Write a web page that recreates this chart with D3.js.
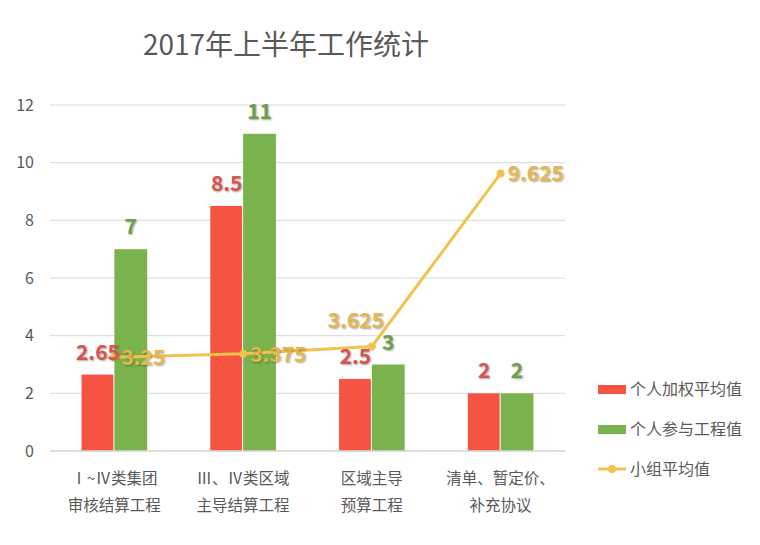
<!DOCTYPE html>
<html>
<head>
<meta charset="utf-8">
<script src="https://cdn.jsdelivr.net/npm/d3@7"></script>
<style>
body { margin:0; background:#fff; }
svg text { font-family: "Noto Sans CJK SC", "Noto Sans", sans-serif; }
.val { font-weight:bold; font-size:21px; text-shadow: 1px 1px 2px rgba(0,0,0,0.35); }
</style>
</head>
<body>
<svg width="760" height="545"></svg>
<script>
var categories = [["Ⅰ~Ⅳ类集团","审核结算工程"],["Ⅲ、Ⅳ类区域","主导结算工程"],["区域主导","预算工程"],["清单、暂定价、","补充协议"]];
var weighted = [2.65, 8.5, 2.5, 2];
var projects = [7, 11, 3, 2];
var groupAvg = [3.25, 3.375, 3.625, 9.625];
var yTicks = [0, 2, 4, 6, 8, 10, 12];
var seriesNames = ["个人加权平均值", "个人参与工程值", "小组平均值"];

var svg = d3.select("svg");
var plotLeft = 50, plotRight = 565, plotTop = 105, plotBottom = 451;

var x = d3.scaleBand()
    .domain(d3.range(categories.length))
    .range([plotLeft, plotRight])
    .paddingInner(0.49)
    .paddingOuter(0.245);

var y = d3.scaleLinear().domain([0, 12]).range([plotBottom, plotTop]);

svg.append("text")
    .attr("x", 286).attr("y", 55)
    .attr("text-anchor", "middle")
    .attr("font-size", 28)
    .attr("fill", "#595959")
    .text("2017年上半年工作统计");

// gridlines
svg.selectAll(".grid").data(yTicks).enter().append("line")
    .attr("x1", plotLeft).attr("x2", plotRight)
    .attr("y1", function(d){ return y(d); })
    .attr("y2", function(d){ return y(d); })
    .attr("stroke", "#d9d9d9").attr("stroke-width", 1);

var yAxis = svg.append("g")
    .attr("transform", "translate(" + plotLeft + ",0)")
    .call(d3.axisLeft(y).tickValues(yTicks).tickSize(0).tickPadding(16));
yAxis.select(".domain").remove();
yAxis.selectAll("text").attr("font-size", 16).attr("fill", "#595959")
    .style("font-family", "'Noto Sans CJK SC', sans-serif");

var bw = x.bandwidth() / 2;
var band = function(i){ return x(i) + x.bandwidth() / 2; };

svg.selectAll(".red").data(weighted).enter().append("rect")
    .attr("x", function(d, i){ return x(i); })
    .attr("y", function(d){ return y(d); })
    .attr("width", bw - 1)
    .attr("height", function(d){ return plotBottom - y(d); })
    .attr("fill", "#f55442");

svg.selectAll(".green").data(projects).enter().append("rect")
    .attr("x", function(d, i){ return x(i) + bw; })
    .attr("y", function(d){ return y(d); })
    .attr("width", bw)
    .attr("height", function(d){ return plotBottom - y(d); })
    .attr("fill", "#7ab34e");

// bottom axis line
svg.append("line")
    .attr("x1", plotLeft).attr("x2", plotRight)
    .attr("y1", plotBottom).attr("y2", plotBottom)
    .attr("stroke", "#d9d9d9").attr("stroke-width", 1.5);

// line series
var line = d3.line()
    .x(function(d, i){ return band(i); })
    .y(function(d){ return y(d); });
svg.append("path").datum(groupAvg)
    .attr("d", line)
    .attr("fill", "none")
    .attr("stroke", "#f2c24f")
    .attr("stroke-width", 3);
svg.selectAll(".dot").data(groupAvg).enter().append("circle")
    .attr("cx", function(d, i){ return band(i); })
    .attr("cy", function(d){ return y(d); })
    .attr("r", 4)
    .attr("fill", "#f2c24f");

// value labels
svg.selectAll(".rl").data(weighted).enter().append("text")
    .attr("class", "val")
    .attr("x", function(d, i){ return x(i) + bw / 2; })
    .attr("y", function(d){ return y(d) - 15; })
    .attr("text-anchor", "middle")
    .attr("fill", "#d9534f")
    .text(function(d){ return d; });

svg.selectAll(".gl").data(projects).enter().append("text")
    .attr("class", "val")
    .attr("x", function(d, i){ return x(i) + bw * 1.5; })
    .attr("y", function(d){ return y(d) - 15; })
    .attr("text-anchor", "middle")
    .attr("fill", "#6d9e48")
    .text(function(d){ return d; });

svg.selectAll(".ll").data(groupAvg).enter().append("text")
    .attr("class", "val")
    .attr("x", function(d, i){ return i == 2 ? band(i) - 16 : band(i) + 7; })
    .attr("y", function(d, i){ return i == 2 ? y(d) - 18 : y(d) + 8; })
    .attr("text-anchor", function(d, i){ return i == 2 ? "middle" : "start"; })
    .attr("fill", "#e4b84e")
    .text(function(d){ return d; });

// category labels
var cat = svg.selectAll(".cat").data(categories).enter().append("text")
    .attr("text-anchor", "middle")
    .attr("font-size", 15.5)
    .attr("fill", "#595959");
cat.selectAll("tspan").data(function(d, i){ return d.map(function(s){ return {s: s, i: i}; }); })
    .enter().append("tspan")
    .attr("x", function(d){ return band(d.i); })
    .attr("y", function(d, j){ return 484 + j * 27; })
    .text(function(d){ return d.s; });

// legend
var legend = svg.selectAll(".leg").data(seriesNames).enter().append("g")
    .attr("transform", function(d, i){ return "translate(598," + (389 + i * 40) + ")"; });
legend.each(function(d, i){
    var g = d3.select(this);
    if (i < 2) {
        g.append("rect").attr("x", 0).attr("y", -4).attr("width", 28).attr("height", 9)
            .attr("fill", i == 0 ? "#f55442" : "#7ab34e");
    } else {
        g.append("line").attr("x1", 0).attr("x2", 28).attr("y1", 0).attr("y2", 0)
            .attr("stroke", "#f2c24f").attr("stroke-width", 3);
        g.append("circle").attr("cx", 14).attr("cy", 0).attr("r", 4).attr("fill", "#f2c24f");
    }
    g.append("text").attr("x", 32).attr("y", 6).attr("font-size", 16)
        .attr("fill", "#595959").text(d);
});
</script>
</body>
</html>
